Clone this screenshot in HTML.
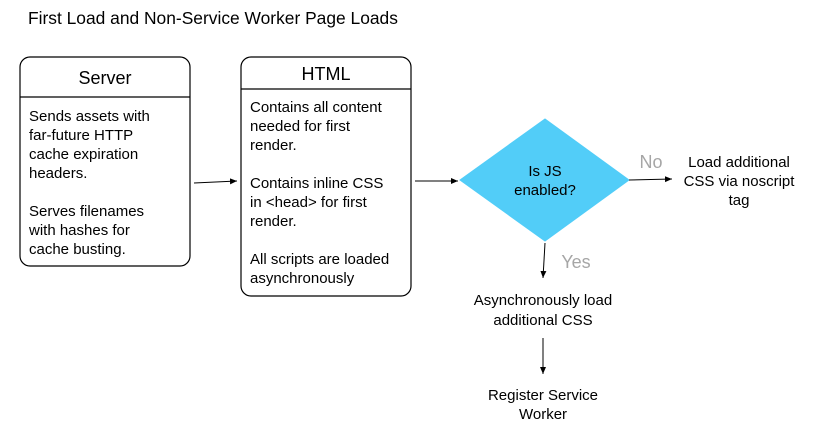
<!DOCTYPE html>
<html><head><meta charset="utf-8"><style>
html,body{margin:0;padding:0;background:#fff;}
svg{display:block;font-family:"Liberation Sans",Arial,sans-serif;}
</style></head><body>
<svg width="820" height="430" viewBox="0 0 820 430" xmlns="http://www.w3.org/2000/svg">
<defs><marker id="a" markerWidth="8" markerHeight="8" refX="7" refY="4" orient="auto" markerUnits="userSpaceOnUse"><path d="M0,1 L7,4 L0,7 z" fill="#000"/></marker></defs>
<text x="28" y="24" font-size="17.4" fill="#000">First Load and Non-Service Worker Page Loads</text>

<rect x="20" y="57" width="170" height="209" rx="10" fill="#fff" stroke="#000" stroke-width="1.2"/>
<line x1="20" y1="97" x2="190" y2="97" stroke="#000" stroke-width="1.2"/>
<text x="105" y="84" font-size="18" text-anchor="middle">Server</text>
<g font-size="15">
<text x="29" y="121">Sends assets with</text>
<text x="29" y="140">far-future HTTP</text>
<text x="29" y="159">cache expiration</text>
<text x="29" y="178">headers.</text>
<text x="29" y="216">Serves filenames</text>
<text x="29" y="235">with hashes for</text>
<text x="29" y="254">cache busting.</text>
</g>

<rect x="241" y="57" width="170" height="239" rx="10" fill="#fff" stroke="#000" stroke-width="1.2"/>
<line x1="241" y1="89" x2="411" y2="89" stroke="#000" stroke-width="1.2"/>
<text x="326" y="80" font-size="18" text-anchor="middle">HTML</text>
<g font-size="15">
<text x="250" y="112">Contains all content</text>
<text x="250" y="131">needed for first</text>
<text x="250" y="150">render.</text>
<text x="250" y="188">Contains inline CSS</text>
<text x="250" y="207">in &lt;head&gt; for first</text>
<text x="250" y="226">render.</text>
<text x="250" y="264">All scripts are loaded</text>
<text x="250" y="283">asynchronously</text>
</g>

<line x1="194" y1="183" x2="237" y2="181" stroke="#000" marker-end="url(#a)"/>
<line x1="415" y1="181" x2="458" y2="181" stroke="#000" marker-end="url(#a)"/>

<polygon points="460,180 545,119 629,180 545,241" fill="#52cdf8" stroke="#52cdf8"/>
<text x="545" y="176" font-size="15" text-anchor="middle">Is JS</text>
<text x="545" y="195" font-size="15" text-anchor="middle">enabled?</text>

<line x1="629" y1="180" x2="672" y2="179" stroke="#000" marker-end="url(#a)"/>
<text x="651" y="168" font-size="18" fill="#a6a6a6" text-anchor="middle">No</text>
<g font-size="15" text-anchor="middle">
<text x="739" y="167">Load additional</text>
<text x="739" y="186">CSS via noscript</text>
<text x="739" y="205">tag</text>
</g>

<line x1="545" y1="243" x2="543" y2="278" stroke="#000" marker-end="url(#a)"/>
<text x="576" y="268" font-size="18" fill="#a6a6a6" text-anchor="middle">Yes</text>
<g font-size="15" text-anchor="middle">
<text x="543" y="305">Asynchronously load</text>
<text x="543" y="325">additional CSS</text>
<text x="543" y="400">Register Service</text>
<text x="543" y="419">Worker</text>
</g>
<line x1="543" y1="338" x2="543" y2="374" stroke="#000" marker-end="url(#a)"/>
</svg>
</body></html>
